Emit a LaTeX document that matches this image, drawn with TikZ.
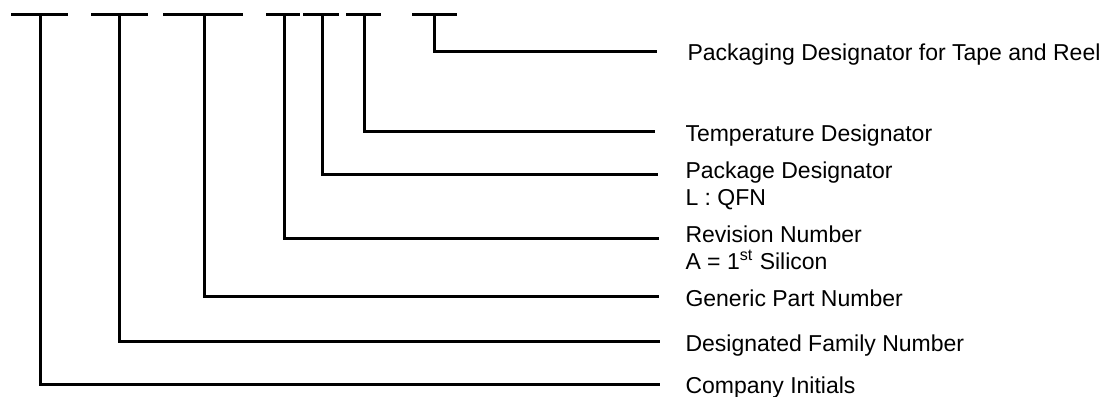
\documentclass[tikz,border=0pt]{standalone}
\usepackage{fontspec}
\setmainfont{Liberation Sans}

\begin{document}
\begin{tikzpicture}[x=0.5pt, y=-0.5pt, line width=1.5pt,
    lbl/.style={anchor=north west, inner sep=0pt, align=left,
        font=\fontsize{11.5}{13.5}\selectfont}]
    \useasboundingbox (0,0) rectangle (1118,396);

    % Dashes of the part number
    \foreach \xa/\xb in {11/68, 91/148, 163/243, 266/300, 303/339, 346/381, 412/457}
        \draw (\xa,14.5) -- (\xb,14.5);

    % Tick points on the dashes
    \coordinate (company) at (40,14.5);
    \coordinate (family) at (119,14.5);
    \coordinate (generic) at (204,14.5);
    \coordinate (revision) at (284,14.5);
    \coordinate (package) at (322,14.5);
    \coordinate (temperature) at (364,14.5);
    \coordinate (packaging) at (434,14.5);

    % Ends of the leader lines
    \coordinate (companyend) at (660,384.5);
    \coordinate (familyend) at (660,341.5);
    \coordinate (genericend) at (659,296.5);
    \coordinate (revisionend) at (659,238);
    \coordinate (packageend) at (658,174);
    \coordinate (temperatureend) at (655,131.5);
    \coordinate (packagingend) at (657,51);

    % Labels
    \node[lbl] (companytext) at (684,375) {Company Initials};
    \node[lbl] (familytext) at (684,333) {Designated Family Number};
    \node[lbl] (generictext) at (684,288) {Generic Part Number};
    \node[lbl] (revisiontext) at (684,224.5) {Revision Number\\A = 1\textsuperscript{st} Silicon};
    \node[lbl] (packagetext) at (684,160) {Package Designator\\L : QFN};
    \node[lbl] (temperaturetext) at (684,123) {Temperature Designator};
    \node[lbl] (packagingtext) at (686,42.5) {Packaging Designator for Tape and Reel};

    % Leader lines
    \draw (company) |- (companyend);
    \draw (family) |- (familyend);
    \draw (generic) |- (genericend);
    \draw (revision) |- (revisionend);
    \draw (package) |- (packageend);
    \draw (temperature) |- (temperatureend);
    \draw (packaging) |- (packagingend);
\end{tikzpicture}
\end{document}
